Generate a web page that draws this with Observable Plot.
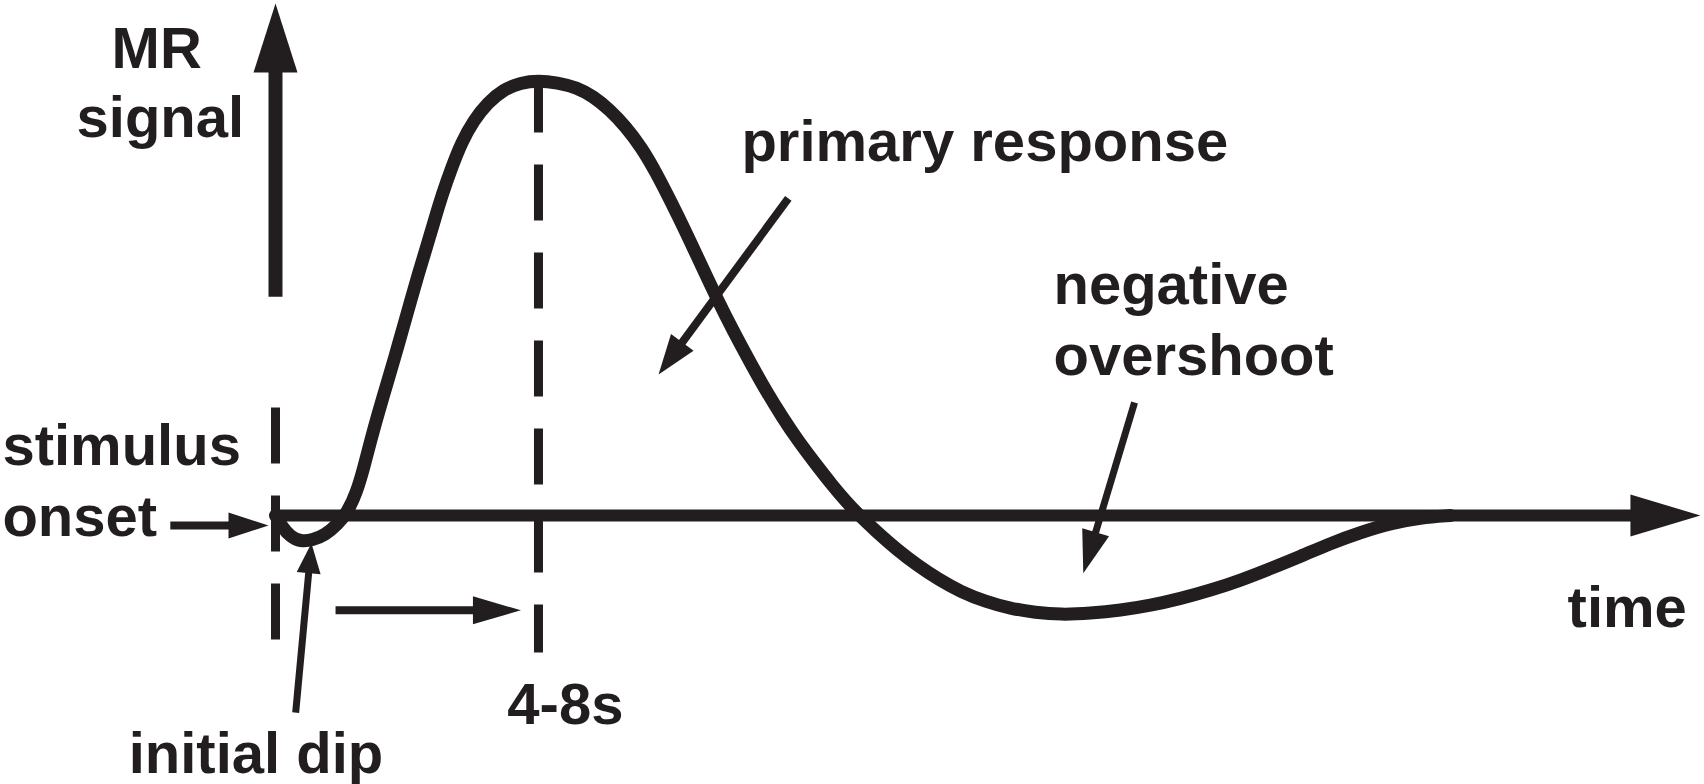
<!DOCTYPE html>
<html><head><meta charset="utf-8">
<script src="https://cdn.jsdelivr.net/npm/d3@7"></script>
<script src="https://cdn.jsdelivr.net/npm/@observablehq/plot@0.6"></script>
<style>
html,body{margin:0;padding:0;background:#fff;}
#chart svg{display:block;}
</style></head><body><div id="chart"></div>
<script>
// Haemodynamic response: time (s) from stimulus onset, MR signal normalised to peak = 1
const curveTime = [0,0.16,0.34,0.57,0.84,1.14,1.41,1.64,1.85,2.01,2.17,2.35,2.53,2.72,2.90,3.08,3.26,3.45,3.63,3.81,4.02,4.24,4.52,4.84,5.20,5.59,6.00,
  6.43,6.87,7.26,7.62,7.99,8.35,8.68,9.02,9.38,9.73,10.08,10.45,10.83,11.20,11.57,11.92,12.31,12.69,13.00,13.32,
  13.71,14.17,14.65,15.13,15.63,16.20,16.77,17.34,17.91,18.59,19.28,19.96,20.65,21.33,22.02,22.70,23.39,24.07,24.75,25.44,26.12,26.81];
const curveSignal = [0,-0.028,-0.048,-0.060,-0.057,-0.044,-0.021,0.007,0.053,0.108,0.172,0.237,0.299,0.363,0.428,0.492,0.556,0.618,0.680,0.740,0.800,0.857,0.908,0.949,0.979,0.995,1.000,
  0.995,0.984,0.963,0.933,0.894,0.846,0.789,0.722,0.648,0.572,0.497,0.423,0.352,0.285,0.225,0.172,0.120,0.071,0.034,0,
  -0.037,-0.078,-0.115,-0.147,-0.175,-0.198,-0.214,-0.223,-0.228,-0.225,-0.218,-0.207,-0.191,-0.172,-0.149,-0.122,-0.094,-0.064,-0.039,-0.018,-0.005,0];

// Annotation arrows (data units)
const arrowNames = ["signal axis","time axis","onset","initial dip","latency","primary response","negative overshoot"];
const arrowFromT = [0, 0, -2.40, 0.46, 1.37, 11.70, 19.60];
const arrowFromS = [0.503, 0, -0.023, -0.453, -0.218, 0.729, 0.260];
const arrowToT   = [0, 32.51, -0.16, 0.82, 5.60, 8.74, 18.43];
const arrowToS   = [1.177, 0, -0.023, -0.064, -0.218, 0.324, -0.133];

// Dashed markers: stimulus onset and time to peak
const markerTime = [0, 6];
const markerTop = [0.248, 1.009];
const markerBottom = [-0.287, -0.315];

// Text labels
const labelText = ["MR","signal","stimulus","onset","initial dip","4-8s","primary response","negative","overshoot","time"];
const labelT = [-3.74,-4.54,-6.23,-6.23,-3.35,5.29,10.63,17.75,17.75,29.48];
const labelS = [1.028,0.869,0.115,-0.046,-0.591,-0.480,0.816,0.487,0.322,-0.257];

// ---- layout / style ----
const W = 1704, H = 784;
const xDomain = [-6.2742, 32.6032];
const yDomain = [-0.61839, 1.18391];
const ink = "#221e1f";
const arrowStyle = {
  "signal axis":        {w: 14, L: 69, hw: 22},
  "time axis":          {w: 12, L: 70, hw: 21},
  "onset":              {w: 8,  L: 40, hw: 13},
  "initial dip":        {w: 7,  L: 30, hw: 12},
  "latency":            {w: 8,  L: 48, hw: 14},
  "primary response":   {w: 8,  L: 40, hw: 14},
  "negative overshoot": {w: 7,  L: 43, hw: 14}
};

const sx = d3.scaleLinear(xDomain, [0, W]);
const sy = d3.scaleLinear(yDomain, [H, 0]);

const curve = curveTime.map((t, i) => ({t, s: curveSignal[i]}));
const arrows = arrowNames.map((name, i) => ({name, t1: arrowFromT[i], s1: arrowFromS[i], t2: arrowToT[i], s2: arrowToS[i]}));
const markers = markerTime.map((t, i) => ({t, top: markerTop[i], bottom: markerBottom[i]}));
const labels = labelText.map((text, i) => ({text, t: labelT[i], s: labelS[i]}));

// shafts stop inside the head; heads are filled triangles
const shafts = [], heads = [];
for (const a of arrows) {
  const st = arrowStyle[a.name];
  const x1 = sx(a.t1), y1 = sy(a.s1), x2 = sx(a.t2), y2 = sy(a.s2);
  const len = Math.hypot(x2 - x1, y2 - y1);
  const ux = (x2 - x1) / len, uy = (y2 - y1) / len;
  const bx = x2 - ux * st.L, by = y2 - uy * st.L;
  const ex = x2 - ux * st.L * 0.6, ey = y2 - uy * st.L * 0.6;
  shafts.push({name: a.name, t1: a.t1, s1: a.s1, t2: sx.invert(ex), s2: sy.invert(ey), w: st.w});
  const pts = [[x2, y2], [bx - uy * st.hw, by + ux * st.hw], [bx + uy * st.hw, by - ux * st.hw]];
  for (const [px, py] of pts) heads.push({name: a.name, t: sx.invert(px), s: sy.invert(py)});
}

const chart = Plot.plot({
  width: W, height: H,
  margin: 0,
  x: {domain: xDomain, axis: null},
  y: {domain: yDomain, axis: null},
  style: {background: "#fff"},
  marks: [
    Plot.link(markers, {x1: "t", x2: "t", y1: "top", y2: "bottom", stroke: ink, strokeWidth: 9, strokeDasharray: "56,32"}),
    Plot.link(shafts, {x1: "t1", y1: "s1", x2: "t2", y2: "s2", stroke: ink, strokeWidth: "w", strokeLinecap: "butt"}),
    Plot.line(heads, {x: "t", y: "s", z: "name", fill: ink, stroke: "none"}),
    Plot.line(curve, {x: "t", y: "s", curve: "basis", stroke: ink, strokeWidth: 13, strokeLinejoin: "round"}),
    Plot.text(labels, {x: "t", y: "s", text: "text", textAnchor: "start", lineAnchor: "bottom",
      fontSize: 58, fontWeight: "bold", fontFamily: "'Liberation Sans', Arial, Helvetica, sans-serif", fill: ink})
  ]
});
document.getElementById("chart").append(chart);
</script>
</body></html>
